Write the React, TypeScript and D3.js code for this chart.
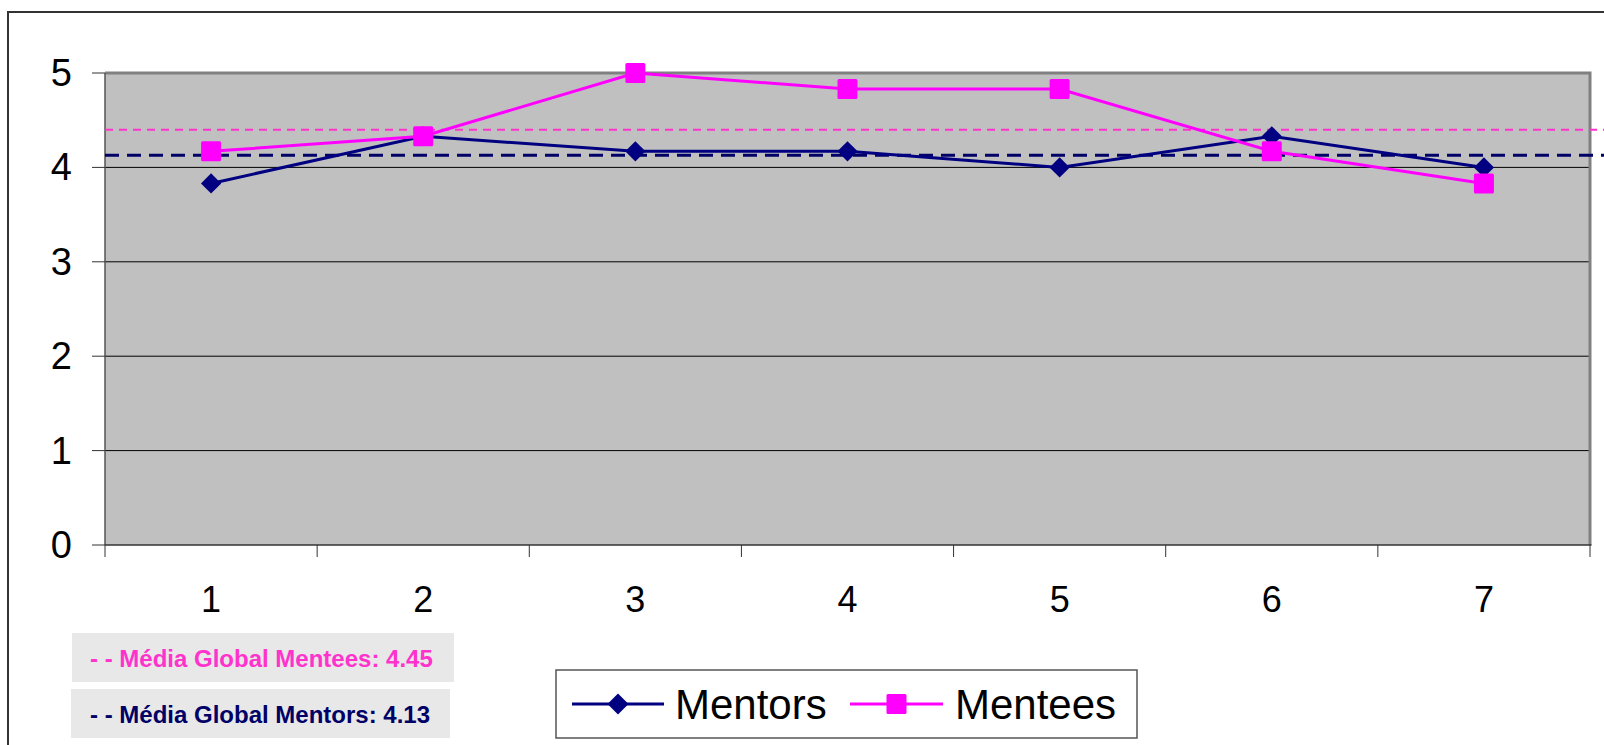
import React, { useEffect, useRef } from 'react';
import * as d3 from 'd3';

const categories = ['1', '2', '3', '4', '5', '6', '7'];
const mentors = [3.83, 4.33, 4.17, 4.17, 4.0, 4.33, 4.0];
const mentees = [4.17, 4.33, 5.0, 4.83, 4.83, 4.17, 3.83];
const yTicks = [0, 1, 2, 3, 4, 5];
const meanMentees = 4.4;
const meanMentors = 4.13;
const meanLabels = ['- - Média Global Mentees: 4.45', '- - Média Global Mentors: 4.13'];
const seriesNames = ['Mentors', 'Mentees'];

const W = 1604;
const H = 745;
const FONT = '"Liberation Sans", Arial, Helvetica, sans-serif';

const App: React.FC = () => {
	const svgRef = useRef<SVGSVGElement>(null);

	useEffect(() => {
		if (svgRef.current == null) return;
		const svg = d3.select(svgRef.current);
		svg.selectAll('*').remove();

		const left = 105, right = 1590, top = 73, bottom = 545;
		const x = d3.scaleBand<string>().domain(categories).range([left, right]);
		const y = d3.scaleLinear().domain([0, 5]).range([bottom, top]);
		const cx = (i: number) => (x(categories[i]) as number) + x.bandwidth() / 2;

		// outer frame
		svg.append('rect')
			.attr('x', 8).attr('y', 12)
			.attr('width', W).attr('height', H)
			.attr('fill', 'white').attr('stroke', '#333').attr('stroke-width', 2);

		// plot area
		svg.append('rect')
			.attr('x', left).attr('y', top)
			.attr('width', right - left).attr('height', bottom - top)
			.attr('fill', '#c0c0c0');

		// gridlines
		yTicks.filter(t => t > 0 && t < 5).forEach(t => {
			svg.append('line')
				.attr('x1', left).attr('x2', right)
				.attr('y1', y(t)).attr('y2', y(t))
				.attr('stroke', '#000').attr('stroke-width', 1);
		});

		// plot border
		svg.append('path')
			.attr('d', `M${left},${top}H${right}V${bottom}`)
			.attr('fill', 'none').attr('stroke', '#808080').attr('stroke-width', 3);
		svg.append('line')
			.attr('x1', left).attr('x2', left).attr('y1', top).attr('y2', bottom)
			.attr('stroke', '#555').attr('stroke-width', 1.5);
		svg.append('line')
			.attr('x1', left).attr('x2', right + 1.5).attr('y1', bottom).attr('y2', bottom)
			.attr('stroke', '#333').attr('stroke-width', 1.5);

		// y ticks + labels
		yTicks.forEach(t => {
			svg.append('line')
				.attr('x1', left - 13).attr('x2', left)
				.attr('y1', y(t)).attr('y2', y(t))
				.attr('stroke', '#333').attr('stroke-width', 1);
			svg.append('text')
				.attr('x', 72).attr('y', y(t) + 13)
				.attr('text-anchor', 'end')
				.attr('font-family', FONT).attr('font-size', 38)
				.attr('fill', '#000')
				.text(String(t));
		});

		// x ticks + labels
		categories.forEach((c, i) => {
			const x0 = x(c) as number;
			svg.append('line')
				.attr('x1', x0).attr('x2', x0).attr('y1', bottom).attr('y2', bottom + 12)
				.attr('stroke', '#333').attr('stroke-width', 1);
			svg.append('text')
				.attr('x', cx(i)).attr('y', 612)
				.attr('text-anchor', 'middle')
				.attr('font-family', FONT).attr('font-size', 36)
				.attr('fill', '#000')
				.text(c);
		});
		svg.append('line')
			.attr('x1', right).attr('x2', right).attr('y1', bottom).attr('y2', bottom + 12)
			.attr('stroke', '#333').attr('stroke-width', 1);

		// mean lines
		svg.append('line')
			.attr('x1', left).attr('x2', W)
			.attr('y1', y(meanMentees)).attr('y2', y(meanMentees))
			.attr('stroke', '#ff33cc').attr('stroke-width', 2)
			.attr('stroke-dasharray', '8,6');
		svg.append('line')
			.attr('x1', left).attr('x2', W)
			.attr('y1', y(meanMentors)).attr('y2', y(meanMentors))
			.attr('stroke', '#000066').attr('stroke-width', 3)
			.attr('stroke-dasharray', '14,8');

		const line = d3.line<number>().x((_, i) => cx(i)).y(d => y(d));

		// mentors series
		svg.append('path').datum(mentors)
			.attr('d', line).attr('fill', 'none')
			.attr('stroke', '#000080').attr('stroke-width', 3);
		mentors.forEach((v, i) => {
			svg.append('path')
				.attr('d', d3.symbol().type(d3.symbolDiamond2).size(260)() as string)
				.attr('transform', `translate(${cx(i)},${y(v)})`)
				.attr('fill', '#000080');
		});

		// mentees series
		svg.append('path').datum(mentees)
			.attr('d', line).attr('fill', 'none')
			.attr('stroke', '#ff00ff').attr('stroke-width', 3);
		mentees.forEach((v, i) => {
			svg.append('rect')
				.attr('x', cx(i) - 10).attr('y', y(v) - 10)
				.attr('width', 20).attr('height', 20).attr('rx', 1.5)
				.attr('fill', '#ff00ff');
		});

		// mean label boxes
		const boxes = [
			{ x: 72, y: 633, w: 382, color: '#ff33cc' },
			{ x: 71, y: 689, w: 379, color: '#000066' },
		];
		boxes.forEach((b, i) => {
			svg.append('rect')
				.attr('x', b.x).attr('y', b.y).attr('width', b.w).attr('height', 49)
				.attr('fill', '#e8e8e8');
			svg.append('text')
				.attr('x', 90).attr('y', b.y + 34)
				.attr('font-family', FONT).attr('font-size', 24).attr('font-weight', 'bold')
				.attr('fill', b.color)
				.text(meanLabels[i]);
		});

		// legend
		svg.append('rect')
			.attr('x', 556).attr('y', 670).attr('width', 581).attr('height', 68)
			.attr('fill', 'white').attr('stroke', '#555').attr('stroke-width', 1.5);
		const ly = 704;
		const legendItems = [
			{ x1: 572, x2: 664, tx: 675, color: '#000080', marker: 'diamond' },
			{ x1: 850, x2: 943, tx: 955, color: '#ff00ff', marker: 'square' },
		];
		legendItems.forEach((it, i) => {
			svg.append('line')
				.attr('x1', it.x1).attr('x2', it.x2).attr('y1', ly).attr('y2', ly)
				.attr('stroke', it.color).attr('stroke-width', 3);
			const mx = (it.x1 + it.x2) / 2;
			if (it.marker === 'diamond') {
				svg.append('path')
					.attr('d', d3.symbol().type(d3.symbolDiamond2).size(280)() as string)
					.attr('transform', `translate(${mx},${ly})`)
					.attr('fill', it.color);
			} else {
				svg.append('rect')
					.attr('x', mx - 10).attr('y', ly - 10).attr('width', 20).attr('height', 20)
					.attr('rx', 1.5)
					.attr('fill', it.color);
			}
			svg.append('text')
				.attr('x', it.tx).attr('y', ly + 15)
				.attr('font-family', FONT).attr('font-size', 42)
				.attr('fill', '#000')
				.text(seriesNames[i]);
		});
	}, []);

	return (
		<svg
			ref={svgRef}
			width={W}
			height={H}
			style={{ position: 'absolute', left: 0, top: 0, display: 'block' }}
		/>
	);
};

export default App;
